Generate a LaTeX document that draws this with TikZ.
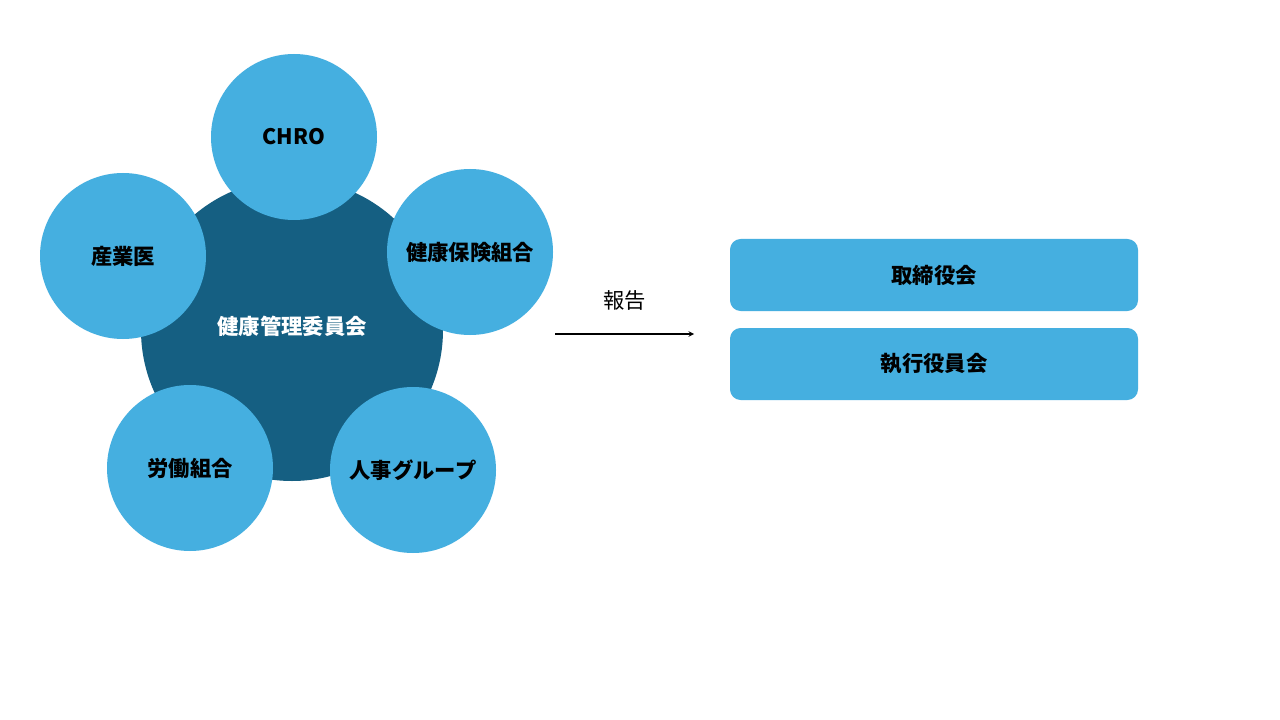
\documentclass[tikz,border=0pt]{standalone}
\usepackage{fontspec}
\newfontfamily\jp{Noto Sans CJK JP}
\usetikzlibrary{positioning}
\definecolor{lightblu}{HTML}{45AFE0}
\definecolor{darkblu}{HTML}{155F82}
\tikzset{member/.style={circle,fill=lightblu,minimum size=166pt*0.75,inner sep=0pt,font=\jp\bfseries\fontsize{16}{18}\selectfont},
  board/.style={rectangle,rounded corners=8pt,fill=lightblu,minimum width=408*0.75pt,minimum height=72*0.75pt,font=\jp\bfseries\fontsize{16}{18}\selectfont}}
\begin{document}
\begin{tikzpicture}[x=0.75pt,y=-0.75pt]
\useasboundingbox[fill=white] (0,0) rectangle (1280,720);
\node[circle,fill=darkblu,minimum size=302*0.75pt,inner sep=0pt,text=white,font=\jp\bfseries\fontsize{16}{18}\selectfont] (center) at (292,330) {};
\node[member] (chro) at (294,137) {CHRO};
\node[member] (kenpo) at (470,252) {健康保険組合};
\node[member] (sangyo) at (123,256) {産業医};
\node[member] (roudou) at (190,468) {労働組合};
\node[member] (jinji) at (413,470) {人事グループ};
\node[text=white,font=\jp\bfseries\fontsize{16}{18}\selectfont] (committee) at (292,326) {健康管理委員会};
\coordinate (from) at (555,334);
\coordinate (to) at (694,334);
\draw[thick,->,>=stealth] (from) -- node[above=14pt,font=\jp\fontsize{16}{18}\selectfont]{報告} (to);
\node[board] (torishimari) at (934,275) {取締役会};
\node[board] (shikkou) at (934,364) {執行役員会};
\end{tikzpicture}
\end{document}
